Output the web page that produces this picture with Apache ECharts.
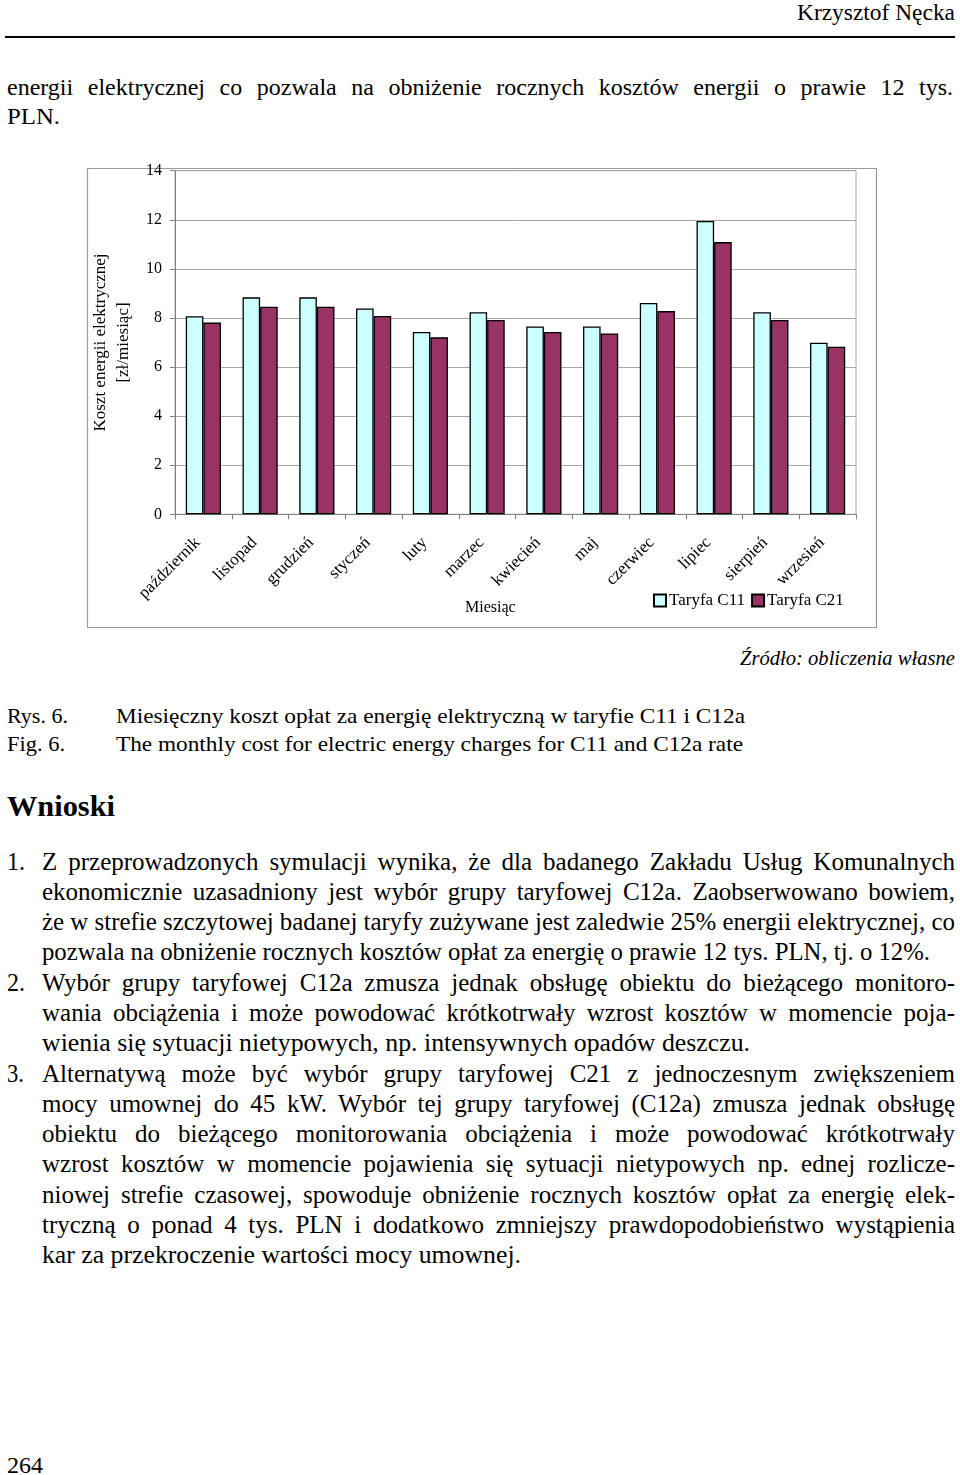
<!DOCTYPE html>
<html>
<head>
<meta charset="utf-8">
<script src="https://cdn.jsdelivr.net/npm/echarts@6/dist/echarts.min.js"></script>
<style>
  html, body { margin:0; padding:0; background:#fff; }
  body { width:960px; height:1475px; position:relative; overflow:hidden; font-family:"Liberation Serif","DejaVu Serif",serif; color:#000; }
  .ln { position:absolute; white-space:nowrap; transform-origin:0 50%; }
  #rule { position:absolute; left:5px; top:36px; width:950px; height:2px; background:#000; }
  #chart { position:absolute; left:0; top:140px; width:960px; height:500px; }
</style>
</head>
<body>
<div id="rule"></div>
<div id="chart"></div>
<script>
// ---- chart data ----
const months = ['październik','listopad','grudzień','styczeń','luty','marzec','kwiecień','maj','czerwiec','lipiec','sierpień','wrzesień'];
const c11 = [8.07, 8.84, 8.84, 8.39, 7.43, 8.23, 7.65, 7.65, 8.61, 11.95, 8.23, 6.99];
const c21 = [7.81, 8.46, 8.46, 8.08, 7.21, 7.92, 7.43, 7.37, 8.28, 11.09, 7.92, 6.83];
const seriesNames = ['Taryfa C11', 'Taryfa C21'];
const yMin = 0, yMax = 14, yInterval = 2;
const yTitle = 'Koszt energii elektrycznej\n[zł/miesiąc]';
const xTitle = 'Miesiąc';

// ---- page text ----
const textLines = [
  {t:'Krzysztof Nęcka', x:797, y:12, f:24, w:158},
  {t:'energii elektrycznej co pozwala na obniżenie rocznych kosztów energii o prawie 12 tys.', x:7, y:87, f:24, w:946, j:1},
  {t:'PLN.', x:7, y:116, f:24, w:53},
  {t:'Źródło: obliczenia własne', x:740, y:659, f:21, w:215, it:1},
  {t:'Rys. 6.', x:7, y:716, f:22, w:61},
  {t:'Miesięczny koszt opłat za energię elektryczną w taryfie C11 i C12a', x:116, y:716, f:22, w:629},
  {t:'Fig. 6.', x:7, y:744, f:22, w:58},
  {t:'The monthly cost for electric energy charges for C11 and C12a rate', x:116, y:744, f:22, w:627},
  {t:'Wnioski', x:7, y:806, f:30, w:108, b:1},
  {t:'1.', x:7, y:862, f:25, w:18},
  {t:'Z przeprowadzonych symulacji wynika, że dla badanego Zakładu Usług Komunalnych', x:42, y:862, f:25, w:913, j:1},
  {t:'ekonomicznie uzasadniony jest wybór grupy taryfowej C12a. Zaobserwowano bowiem,', x:42, y:892, f:25, w:913, j:1},
  {t:'że w strefie szczytowej badanej taryfy zużywane jest zaledwie 25% energii elektrycznej, co', x:42, y:922, f:25, w:913, j:1},
  {t:'pozwala na obniżenie rocznych kosztów opłat za energię o prawie 12 tys. PLN, tj. o 12%.', x:42, y:952, f:25, w:888},
  {t:'2.', x:7, y:983, f:25, w:18},
  {t:'Wybór grupy taryfowej C12a zmusza jednak obsługę obiektu do bieżącego monitoro-', x:42, y:983, f:25, w:913, j:1},
  {t:'wania obciążenia i może powodować krótkotrwały wzrost kosztów w momencie poja-', x:42, y:1013, f:25, w:913, j:1},
  {t:'wienia się sytuacji nietypowych, np. intensywnych opadów deszczu.', x:42, y:1043, f:25, w:708},
  {t:'3.', x:7, y:1074, f:25, w:17},
  {t:'Alternatywą może być wybór grupy taryfowej C21 z jednoczesnym zwiększeniem', x:42, y:1074, f:25, w:913, j:1},
  {t:'mocy umownej do 45 kW. Wybór tej grupy taryfowej (C12a) zmusza jednak obsługę', x:42, y:1104, f:25, w:913, j:1},
  {t:'obiektu do bieżącego monitorowania obciążenia i może powodować krótkotrwały', x:42, y:1134, f:25, w:913, j:1},
  {t:'wzrost kosztów w momencie pojawienia się sytuacji nietypowych np. ednej rozlicze-', x:42, y:1164, f:25, w:913, j:1},
  {t:'niowej strefie czasowej, spowoduje obniżenie rocznych kosztów opłat za energię elek-', x:42, y:1195, f:25, w:913, j:1},
  {t:'tryczną o ponad 4 tys. PLN i dodatkowo zmniejszy prawdopodobieństwo wystąpienia', x:42, y:1225, f:25, w:913, j:1},
  {t:'kar za przekroczenie wartości mocy umownej.', x:42, y:1255, f:25, w:479},
  {t:'264', x:7, y:1465, f:24, w:36}
];

textLines.forEach(L => {
  const s = document.createElement('span');
  s.className = 'ln';
  s.textContent = L.t;
  s.style.fontSize = L.f + 'px';
  s.style.lineHeight = (L.f * 1.2) + 'px';
  s.style.left = L.x + 'px';
  s.style.top = (L.y - L.f * 0.6) + 'px';
  if (L.it) s.style.fontStyle = 'italic';
  if (L.b) s.style.fontWeight = 'bold';
  document.body.appendChild(s);
  const nat = s.getBoundingClientRect().width;
  const spaces = (L.t.match(/ /g) || []).length;
  if (L.j && nat < L.w && spaces > 0) {
    s.style.wordSpacing = ((L.w - nat) / spaces) + 'px';
  } else {
    s.style.transform = 'scaleX(' + (L.w / nat) + ')';
  }
});

// ---- chart ----
const chart = echarts.init(document.getElementById('chart'), null, {renderer:'canvas'});
const font = '"Liberation Serif", "Times New Roman", serif';
chart.setOption({
  animation: false,
  textStyle: { fontFamily: font, color:'#000' },
  grid: { left:175, right:104, top:30.7, bottom:125.7, show:true, borderColor:'#a6a6a6', borderWidth:1, containLabel:false },
  graphic: [
    { type:'rect', left:85, top:26, shape:{ x:0, y:0, width:789, height:459 }, style:{ fill:'none', stroke:'#9a9a9a', lineWidth:1.2 }, silent:true },
    { type:'text', left:465, top:460, style:{ text:xTitle, font:'16px ' + font, fill:'#000' } }
  ],
  legend: {
    left:653, top:452, padding:0, itemWidth:12, itemHeight:12, itemGap:6, icon:'rect',
    textStyle:{ fontFamily:font, fontSize:17, color:'#000', padding:[0,0,0,-2] },
    data: seriesNames
  },
  xAxis: {
    type:'category', data: months, boundaryGap:true,
    axisLine:{ lineStyle:{ color:'#808080', width:1 } },
    axisTick:{ show:true, length:5, lineStyle:{ color:'#808080' } },
    axisLabel:{ interval:0, rotate:45, margin:20, padding:[0,8,0,0], fontFamily:font, fontSize:17, color:'#000' }
  },
  yAxis: {
    type:'value', min:yMin, max:yMax, interval:yInterval,
    name: yTitle, nameLocation:'middle', nameGap:40, nameRotate:90,
    nameTextStyle:{ fontFamily:font, fontSize:17, lineHeight:23, color:'#000' },
    axisLine:{ show:true, lineStyle:{ color:'#808080', width:1 } },
    axisTick:{ show:true, length:5, lineStyle:{ color:'#808080' } },
    axisLabel:{ margin:13, fontFamily:font, fontSize:16, color:'#000' },
    splitLine:{ lineStyle:{ color:'#a6a6a6', width:1 } }
  },
  series: [
    { name:seriesNames[0], type:'bar', data:c11, barGap:'0%', barCategoryGap:'38%',
      itemStyle:{ color:'#ccffff', borderColor:'#000', borderWidth:1.3 } },
    { name:seriesNames[1], type:'bar', data:c21, barGap:'0%', barCategoryGap:'38%',
      itemStyle:{ color:'#993366', borderColor:'#000', borderWidth:1.3 } }
  ]
});
</script>
</body>
</html>
